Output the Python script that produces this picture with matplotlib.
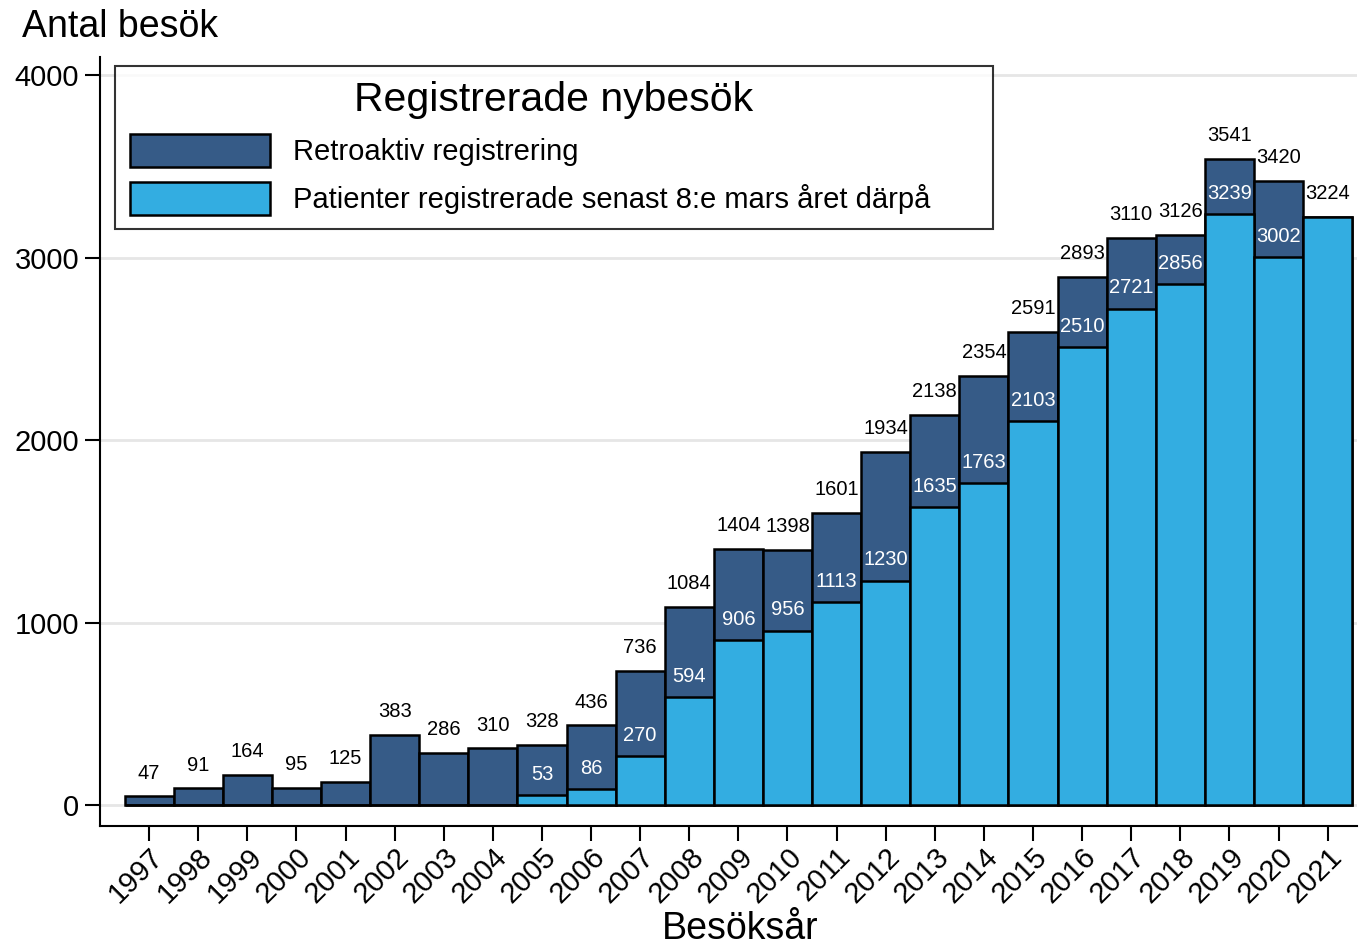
import numpy as np
import matplotlib.pyplot as plt

plt.rcParams['font.family'] = ['Liberation Sans', 'DejaVu Sans']

# Data
years = list(range(1997, 2022))
total = [47, 91, 164, 95, 125, 383, 286, 310, 328, 436, 736, 1084, 1404, 1398,
         1601, 1934, 2138, 2354, 2591, 2893, 3110, 3126, 3541, 3420, 3224]
on_time = [0, 0, 0, 0, 0, 0, 0, 0, 53, 86, 270, 594, 906, 956,
           1113, 1230, 1635, 1763, 2103, 2510, 2721, 2856, 3239, 3002, 3224]

dark = '#365b87'
light = '#33ade1'

fig = plt.figure(figsize=(13.59, 9.47), dpi=100)
ax = fig.add_axes([0.0736, 0.1278, 0.925, 0.812])

x = np.array(years)
ax.bar(x, total, width=1.0, color=dark, edgecolor='black', linewidth=1.8,
       label='Retroaktiv registrering', zorder=3)
ax.bar(x, on_time, width=1.0, color=light, edgecolor='black', linewidth=1.8,
       label='Patienter registrerade senast 8:e mars året därpå', zorder=4)

# value labels
for xi, t, o in zip(x, total, on_time):
    ax.annotate(str(t), (xi, t), xytext=(0, 10), textcoords='offset points',
                ha='center', va='bottom', fontsize=14.5, color='black', zorder=5)
    if 0 < o < t:
        ax.annotate(str(o), (xi, o), xytext=(0, 8), textcoords='offset points',
                    ha='center', va='bottom', fontsize=14.5, color='white', zorder=5)

ax.set_xlim(1996.0, 2021.6)
ax.set_ylim(-115, 4100)
ax.set_yticks([0, 1000, 2000, 3000, 4000])
ax.set_xticks(years)
ax.set_xticklabels([str(y) for y in years], rotation=45, ha='right',
                   rotation_mode='anchor')
ax.tick_params(axis='both', labelsize=21, length=11, width=1.5, pad=4)
ax.tick_params(axis='x', pad=1)

ax.grid(axis='y', color='#e6e6e6', linewidth=2, zorder=0)
for s in ['top', 'right']:
    ax.spines[s].set_visible(False)
for s in ['left', 'bottom']:
    ax.spines[s].set_linewidth(1.5)

fig.text(740 / 1359, 1 - 929 / 947, 'Besöksår', fontsize=27,
         va='center', ha='center')
fig.text(22 / 1359, 1 - 27 / 947, 'Antal besök', fontsize=27, va='center', ha='left')

leg = ax.legend(loc='upper left', bbox_to_anchor=(0.012, 0.0, 0.698, 0.988),
                mode='expand', borderaxespad=0,
                title='Registrerade nybesök', title_fontsize=29.5, fontsize=21,
                frameon=True, fancybox=False, edgecolor='black',
                handlelength=4.8, handleheight=1.35, handletextpad=0.8,
                borderpad=0.5, labelspacing=0.52)
leg.get_frame().set_linewidth(1.5)
leg.set_zorder(6)

fig.savefig('out.png', dpi=100)
